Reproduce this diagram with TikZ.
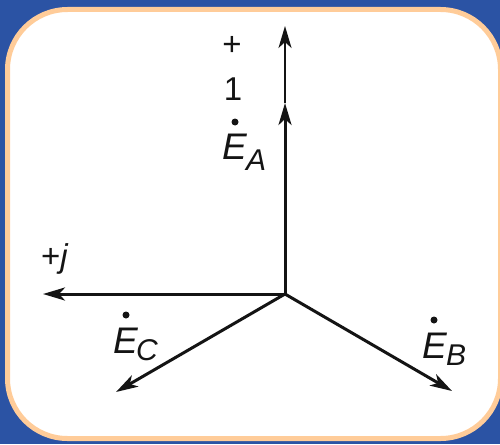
\documentclass[tikz,border=0pt]{standalone}
\usepackage{fontspec}
\setmainfont{Liberation Sans}
\usetikzlibrary{arrows.meta}
\definecolor{bgblue}{RGB}{43,83,164}
\definecolor{rim}{RGB}{255,204,153}
\definecolor{ink}{RGB}{20,20,20}
\begin{document}
\begin{tikzpicture}[x=1pt,y=-1pt,
  vec/.style={draw=ink, line width=3pt, -{Stealth[length=22pt,width=13pt,inset=6pt]}},
  lbl/.style={inner sep=0pt, text=ink},
  big/.style={lbl, font=\fontsize{37}{40}\selectfont\itshape, anchor=base west},
  subl/.style={lbl, font=\fontsize{30}{32}\selectfont\itshape, anchor=base west},
  num/.style={lbl, font=\fontsize{33}{36}\selectfont, anchor=base},
  phdot/.style={circle, fill=ink, minimum size=7pt, inner sep=0pt}]
\useasboundingbox (0,0) rectangle (500,444);
\fill[bgblue] (0,0) rectangle (500,444);
\draw[rim, fill=white, line width=5pt, rounded corners=60pt] (7.5,9.5) rectangle (500.5,438.5);

\coordinate (O) at (285,294);
\coordinate (A) at (285,103);
\coordinate (P) at (285,26);
\coordinate (J) at (43,294);
\coordinate (C) at (116,392);
\coordinate (B) at (452,391);

\draw[vec, line width=2pt] (A) -- (P);
\draw[vec] (O) -- (A);
\draw[vec] (O) -- (J);
\draw[vec] (O) -- (C);
\draw[vec] (O) -- (B);

% axis labels
\node[num] (plus) at (232,56) {+};
\node[num] (one) at (233,100) {1};
\node[lbl, font=\fontsize{33}{36}\selectfont, anchor=base west] (pj) at (41,267) {+\textit{j}};

% phasor labels
\node[phdot] (dA) at (235,122) {};
\node[big] (EA) at (222,159) {E};
\node[subl] (sA) at (246,170) {A};

\node[phdot] (dC) at (126,315) {};
\node[big] (EC) at (113,353) {E};
\node[subl] (sC) at (136,360) {C};

\node[phdot] (dB) at (434,320) {};
\node[big] (EB) at (422,358) {E};
\node[subl] (sB) at (446,365) {B};
\end{tikzpicture}
\end{document}
